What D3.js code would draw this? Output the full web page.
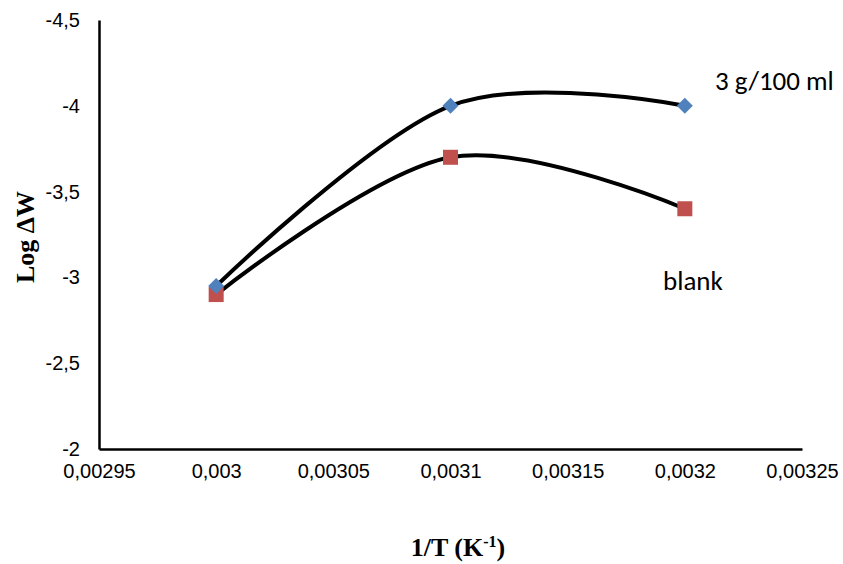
<!DOCTYPE html>
<html>
<head>
<meta charset="utf-8">
<script src="https://cdn.jsdelivr.net/npm/d3@7"></script>
<style>
  body { margin: 0; background: #fff; }
  svg { display: block; }
  .tick text { font-family: "Liberation Sans", Arial, sans-serif; font-size: 20px; fill: #000; }
</style>
</head>
<body>
<div id="chart"></div>
<script>
"use strict";

// 1/T values (K^-1)
var invT = [0.003, 0.0031, 0.0032];
// Log dW for each series
var series3g = [-2.95, -4.0, -4.0];
var blank = [-2.9, -3.7, -3.4];

var xTicks = [0.00295, 0.003, 0.00305, 0.0031, 0.00315, 0.0032, 0.00325];
var xTickLabels = ['0,00295', '0,003', '0,00305', '0,0031', '0,00315', '0,0032', '0,00325'];
var yTicks = [-2, -2.5, -3, -3.5, -4, -4.5];
var yTickLabels = ['-2', '-2,5', '-3', '-3,5', '-4', '-4,5'];

var width = 843, height = 564;
var svg = d3.select('#chart').append('svg')
    .attr('width', width)
    .attr('height', height);

var x = d3.scaleLinear().domain([0.00295, 0.00325]).range([99, 802]);
// reversed: -2 at the bottom, -4.5 at the top
var y = d3.scaleLinear().domain([-2, -4.5]).range([449, 20]);

var xAxis = d3.axisBottom(x)
    .tickValues(xTicks)
    .tickSize(0)
    .tickPadding(11)
    .tickFormat(function (d, i) { return xTickLabels[i]; });

var yAxis = d3.axisLeft(y)
    .tickValues(yTicks)
    .tickSize(0)
    .tickPadding(19)
    .tickFormat(function (d, i) { return yTickLabels[i]; });

svg.append('g')
    .attr('transform', 'translate(0,' + y(-2) + ')')
    .call(xAxis)
    .call(function (g) { g.select('.domain').attr('stroke', '#000').attr('stroke-width', 2.5); })
    .selectAll('text').attr('dy', '0.9em');

svg.append('g')
    .attr('transform', 'translate(' + x(0.00295) + ',0)')
    .call(yAxis)
    .call(function (g) { g.select('.domain').attr('stroke', '#000').attr('stroke-width', 2.5); });

var line = d3.line()
    .x(function (d) { return x(d[0]); })
    .y(function (d) { return y(d[1]); })
    .curve(d3.curveCardinal.tension(0));

function pts(vals) {
    return invT.map(function (t, i) { return [t, vals[i]]; });
}

svg.append('path')
    .datum(pts(series3g))
    .attr('d', line)
    .attr('fill', 'none')
    .attr('stroke', '#000')
    .attr('stroke-width', 4);

svg.append('path')
    .datum(pts(blank))
    .attr('d', line)
    .attr('fill', 'none')
    .attr('stroke', '#000')
    .attr('stroke-width', 4);

// markers: squares for blank, diamonds on top for 3 g/100 ml
svg.selectAll('.sq')
    .data(pts(blank))
    .enter().append('rect')
    .attr('class', 'sq')
    .attr('x', function (d) { return x(d[0]) - 7.5; })
    .attr('y', function (d) { return y(d[1]) - 7.5; })
    .attr('width', 15)
    .attr('height', 15)
    .attr('fill', '#C0504D');

svg.selectAll('.dm')
    .data(pts(series3g))
    .enter().append('path')
    .attr('class', 'dm')
    .attr('d', 'M0,-8L8,0L0,8L-8,0Z')
    .attr('transform', function (d) { return 'translate(' + x(d[0]) + ',' + y(d[1]) + ')'; })
    .attr('fill', '#4F81BD');

// series labels
svg.append('text')
    .attr('x', 715).attr('y', 90)
    .style('font-family', 'Carlito, Lato, "Open Sans", sans-serif')
    .style('font-size', '27px')
    .text('3 g/100 ml');

svg.append('text')
    .attr('x', 663).attr('y', 290)
    .style('font-family', 'Carlito, Lato, "Open Sans", sans-serif')
    .style('font-size', '27px')
    .text('blank');

// axis titles
svg.append('text')
    .attr('transform', 'translate(34,237) rotate(-90)')
    .attr('text-anchor', 'middle')
    .style('font-family', '"Liberation Serif", "Times New Roman", serif')
    .style('font-weight', 'bold')
    .style('font-size', '26px')
    .text('Log \u0394W');

var xt = svg.append('text')
    .attr('x', 458).attr('y', 556)
    .attr('text-anchor', 'middle')
    .style('font-family', '"Liberation Serif", "Times New Roman", serif')
    .style('font-weight', 'bold')
    .style('font-size', '26px');
xt.append('tspan').text('1/T (K');
xt.append('tspan').attr('dy', -9).style('font-size', '16px').text('-1');
xt.append('tspan').attr('dy', 9).text(')');
</script>
</body>
</html>
